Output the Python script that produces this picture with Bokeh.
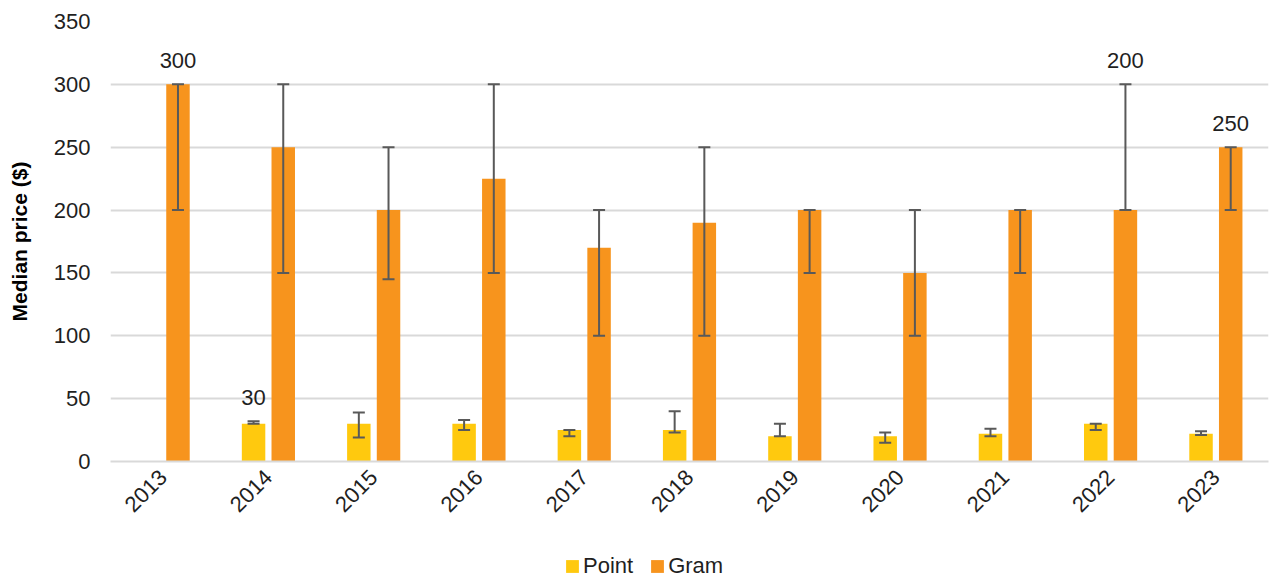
import math
from bokeh.plotting import figure
from bokeh.layouts import column
from bokeh.models import ColumnDataSource, Whisker, TeeHead, FixedTicker, Legend, LegendItem
from bokeh.core.properties import value
from bokeh.embed import file_html
from bokeh.resources import INLINE

years = ["2013", "2014", "2015", "2016", "2017", "2018", "2019", "2020", "2021", "2022", "2023"]
point = [None, 30, 30, 30, 25, 25, 20, 20, 22, 30, 22]
point_low = [None, 30, 19, 25, 20, 23, 20, 15, 20, 25, 21]
point_high = [None, 32, 39, 33, 25, 40, 30, 23, 26, 30, 24]
gram = [300, 250, 200, 225, 170, 190, 200, 150, 200, 200, 250]
gram_low = [200, 150, 145, 150, 100, 100, 150, 100, 150, 200, 200]
gram_high = [300, 300, 250, 300, 200, 250, 200, 200, 200, 300, 250]
point_labels = ["", "30", "", "", "", "", "", "", "", "", ""]
gram_labels = ["300", "", "", "", "", "", "", "", "", "200", "250"]
y_ticks = [0, 50, 100, 150, 200, 250, 300, 350]
series_names = ["Point", "Gram"]

POINT_COLOR = "#FFC90E"
GRAM_COLOR = "#F7941D"
ERR_COLOR = "#595959"
TEXT_COLOR = "#1F1F1F"
FONT = "Liberation Sans"
FS = "22px"
OFF = 0.141
BW = 0.223

idx = list(range(len(years)))
pi = [i for i in idx if point[i] is not None]
psrc = ColumnDataSource(dict(
    x=[i - OFF for i in pi],
    top=[point[i] for i in pi],
    low=[point_low[i] for i in pi],
    high=[point_high[i] for i in pi],
    label=[point_labels[i] for i in pi],
))
gsrc = ColumnDataSource(dict(
    x=[i + OFF for i in idx],
    top=gram,
    low=gram_low,
    high=gram_high,
    label=gram_labels,
))

p = figure(width=1269, height=549, output_backend="svg", toolbar_location=None,
           x_range=(-0.5, 10.5), y_range=(0, 350),
           min_border_left=110, min_border_right=1, min_border_top=21, min_border_bottom=88)
p.outline_line_color = None
p.background_fill_color = "white"
p.border_fill_color = "white"

rp = p.vbar(x="x", top="top", width=BW, source=psrc, fill_color=POINT_COLOR, line_color=None)
rg = p.vbar(x="x", top="top", width=BW, source=gsrc, fill_color=GRAM_COLOR, line_color=None)

for src in (psrc, gsrc):
    w = Whisker(base="x", lower="low", upper="high", source=src, level="overlay",
                line_color=ERR_COLOR, line_width=2,
                upper_head=TeeHead(size=12, line_color=ERR_COLOR, line_width=2),
                lower_head=TeeHead(size=12, line_color=ERR_COLOR, line_width=2))
    p.add_layout(w)
    p.text(x="x", y="high", text="label", source=src, text_align="center",
           text_baseline="bottom", y_offset=-16, text_font=value(FONT),
           text_font_size=FS, text_color=TEXT_COLOR)

# y axis
p.yaxis.ticker = FixedTicker(ticks=y_ticks)
p.yaxis.axis_line_color = None
p.yaxis.major_tick_line_color = None
p.yaxis.minor_tick_line_color = None
p.yaxis.major_tick_out = 0
p.yaxis.major_label_standoff = 20
p.yaxis.major_label_text_font = FONT
p.yaxis.major_label_text_font_size = FS
p.yaxis.major_label_text_color = TEXT_COLOR
p.yaxis.axis_label = "Median price ($)"
p.yaxis.axis_label_text_font = FONT
p.yaxis.axis_label_text_font_size = "21px"
p.yaxis.axis_label_text_font_style = "bold"
p.yaxis.axis_label_text_color = "black"
p.yaxis.axis_label_standoff = 20

# x axis
p.xaxis.ticker = FixedTicker(ticks=idx)
p.xaxis.major_label_overrides = {i: y for i, y in zip(idx, years)}
p.xaxis.major_label_orientation = math.pi / 4
p.xaxis.axis_line_color = "#D9D9D9"
p.xaxis.axis_line_width = 2
p.xaxis.major_tick_line_color = None
p.xaxis.minor_tick_line_color = None
p.xaxis.major_tick_out = 0
p.xaxis.major_label_standoff = 12
p.xaxis.major_label_text_font = FONT
p.xaxis.major_label_text_font_size = FS
p.xaxis.major_label_text_color = TEXT_COLOR

p.xgrid.grid_line_color = None
p.ygrid.grid_line_color = "#D9D9D9"
p.ygrid.grid_line_width = 2

# legend strip below the chart (its renderers share the data but lie outside its view)
lf = figure(width=1269, height=30, output_backend="svg", toolbar_location=None,
            x_range=(-0.5, 10.5), y_range=(1000, 1001), x_axis_type=None, y_axis_type=None,
            min_border_left=0, min_border_right=0, min_border_top=0, min_border_bottom=0)
lf.outline_line_color = None
lf.grid.visible = False
lp = lf.vbar(x="x", top="top", width=BW, source=psrc, fill_color=POINT_COLOR, line_color=None)
lg = lf.vbar(x="x", top="top", width=BW, source=gsrc, fill_color=GRAM_COLOR, line_color=None)
legend = Legend(items=[LegendItem(label=series_names[0], renderers=[lp]),
                       LegendItem(label=series_names[1], renderers=[lg])],
                orientation="horizontal", location=(454, 0),
                padding=0, margin=0, spacing=16, label_standoff=3,
                glyph_width=16, glyph_height=16, label_height=16,
                label_text_font=FONT, label_text_font_size=FS,
                label_text_color=TEXT_COLOR, border_line_color=None,
                background_fill_alpha=0)
lf.add_layout(legend, "center")

layout = column(p, lf, spacing=0)
open("out.html", "w").write(file_html(layout, INLINE))
